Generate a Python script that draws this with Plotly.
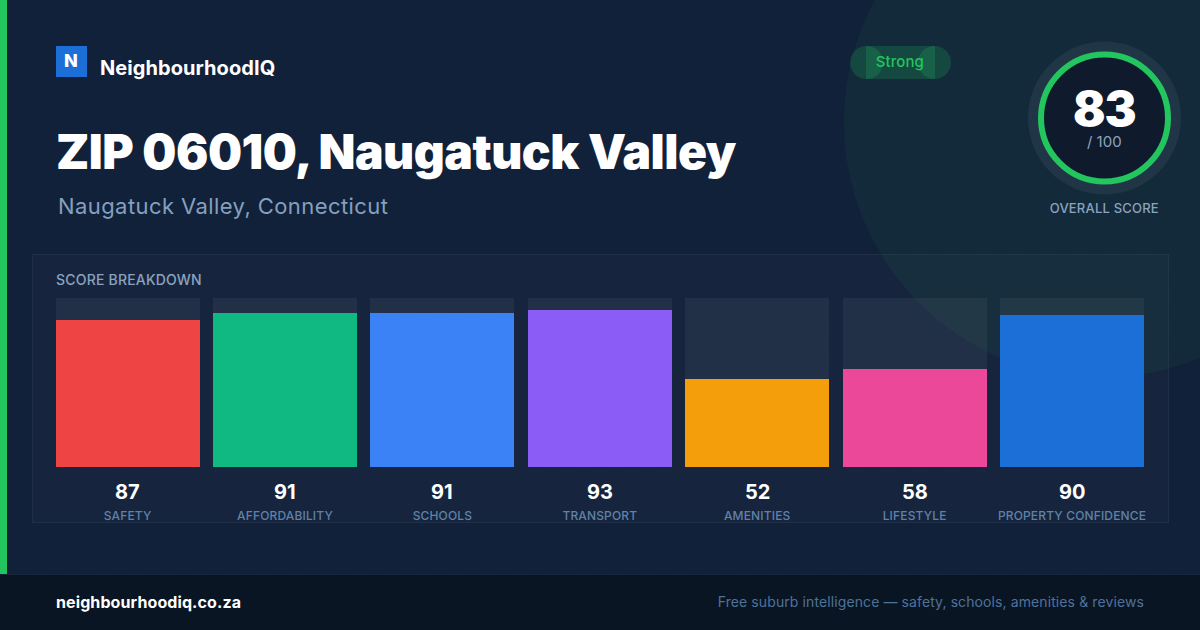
import base64
import json
import plotly.graph_objects as go

categories = ["SAFETY", "AFFORDABILITY", "SCHOOLS", "TRANSPORT", "AMENITIES", "LIFESTYLE", "PROPERTY CONFIDENCE"]
scores = [87, 91, 91, 93, 52, 58, 90]
bar_colors = ["#ef4444", "#10b981", "#3b82f6", "#8b5cf6", "#f59e0b", "#ec4899", "#1d6fd8"]
track_values = [100] * 7
overall_score = 83

W, H = 1200, 630
STEP, BAR_W = 157.4, 144
FIRST_BAR_LEFT = 55.6
X0, X1 = 55, 1145


def fx(px):
    return px / W


def fy(px):
    return 1 - px / H


# faint dot grid behind everything, drawn as a picture with no text
dots = "".join(
    f'<circle cx="{x}" cy="{y}" r="1" fill="#ffffff" fill-opacity="0.03"/>'
    for x in range(24, W, 32) for y in range(24, 574, 32)
)
svg = (
    f'<svg xmlns="http://www.w3.org/2000/svg" width="{W}" height="{H}">'
    f'<rect width="{W}" height="{H}" fill="#12213a"/>{dots}</svg>'
)
bg = "data:image/svg+xml;base64," + base64.b64encode(svg.encode()).decode()

fig = go.Figure()
fig.add_bar(x=categories, y=track_values, width=BAR_W / STEP, marker=dict(color="rgba(255,255,255,0.05)", line_width=0),
            hoverinfo="skip", showlegend=False)
fig.add_bar(x=categories, y=scores, width=BAR_W / STEP, marker=dict(color=bar_colors, line_width=0),
            showlegend=False)

shapes = []


def rect(x0, y0, x1, y1, fill, line=None):
    shapes.append(dict(type="rect", xref="paper", yref="paper", x0=fx(x0), x1=fx(x1), y0=fy(y1), y1=fy(y0),
                       fillcolor=fill, line=dict(color=line or "rgba(0,0,0,0)", width=1 if line else 0), layer="below"))


def circle(cx, cy, r, fill, line=None, lw=0):
    shapes.append(dict(type="circle", xref="paper", yref="paper", x0=fx(cx - r), x1=fx(cx + r),
                       y0=fy(cy + r), y1=fy(cy - r), fillcolor=fill,
                       line=dict(color=line or "rgba(0,0,0,0)", width=lw), layer="below"))


circle(1100, 122, 256, "rgba(34,197,94,0.055)")
rect(32.5, 254.5, 1168.5, 522.5, "rgba(255,255,255,0.02)", "rgba(255,255,255,0.06)")
rect(0, 0, 7, 574, "#22c55e")
rect(0, 574, W, H, "#0a1524")
rect(0, 574, W, 575, "#17243a")
rect(56, 46, 87, 77, "#1d6fd8")
# status pill
rect(866, 46, 935, 79, "rgba(34,197,94,0.2)")
circle(866.5, 62.5, 16.5, "rgba(34,197,94,0.2)")
circle(934.5, 62.5, 16.5, "rgba(34,197,94,0.2)")
# gauge
circle(1104.5, 118, 76.5, "rgba(255,255,255,0.06)")
circle(1104.5, 118, 63.5, "#0f1b2d", "#22c55e", 6)


def text(px, py, s, size, color, weight=400, anchor="left", height=None):
    fig.add_annotation(xref="paper", yref="paper", x=fx(px), y=fy(py), text=s, showarrow=False, xanchor=anchor,
                       yanchor="middle", borderwidth=0, borderpad=0, height=height,
                       font=dict(family="Inter", size=size, color=color, weight=weight))


text(71, 60.5, "N", 18, "#ffffff", 800, "center")
text(100, 68, "NeighbourhoodIQ", 20, "#ffffff", 700)
text(56, 151, "ZIP 06010, Naugatuck Valley", 48, "#ffffff", 900)
text(58, 206, "Naugatuck Valley, Connecticut", 22, "#84a0be", 400)
text(900, 62, "Strong", 15, "#22c55e", 500, "center")
text(1104.5, 108, str(overall_score), 48, "#ffffff", 900, "center", height=38)
text(1104.5, 141, "/ 100", 15, "#8ba3bf", 400, "center")
text(1104.5, 208, "OVERALL SCORE", 13, "#8ba3bf", 500, "center")
text(56, 279.5, "SCORE BREAKDOWN", 14, "#8ba3bf", 500)
text(56, 602, "neighbourhoodiq.co.za", 16, "#ffffff", 700)
text(1144, 601, "Free suburb intelligence — safety, schools, amenities &amp; reviews", 14, "#4f7299", 400, "right")

for c, v in zip(categories, scores):
    fig.add_annotation(x=c, y=0, yref="y", xref="x", text=str(v), showarrow=False, yanchor="middle", yshift=-25,
                       borderwidth=0, borderpad=0,
                       font=dict(family="Inter", size=20, color="#ffffff", weight=700))

first_center = FIRST_BAR_LEFT + BAR_W / 2
fig.update_layout(
    width=W, height=H, margin=dict(l=0, r=0, t=0, b=0), barmode="overlay", bargap=0,
    paper_bgcolor="#12213a", plot_bgcolor="rgba(0,0,0,0)", shapes=shapes,
    images=[dict(source=bg, xref="paper", yref="paper", x=0, y=1, sizex=1, sizey=1, sizing="stretch",
                 xanchor="left", yanchor="top", layer="below")],
    xaxis=dict(domain=[fx(X0), fx(X1)], range=[(X0 - first_center) / STEP, (X1 - first_center) / STEP],
               type="category", showgrid=False, zeroline=False,
               showline=False, ticks="outside", ticklen=38, tickcolor="rgba(0,0,0,0)",
               tickfont=dict(family="Inter", size=12, color="#5f82a8", weight=500)),
    yaxis=dict(domain=[fy(467), fy(298)], range=[0, 100], visible=False),
    font=dict(family="Inter"),
)

# tracking of the reference's texts: text -> [letter spacing px, anchor]
tracking = {
    "ZIP 06010, Naugatuck Valley": [-0.5, "left"],
    "NeighbourhoodIQ": [0.07, "left"],
    "83": [-1, "center"],
    "Naugatuck Valley, Connecticut": [0.42, "left"],
    "OVERALL SCORE": [0.2, "center"],
    "SCORE BREAKDOWN": [0.2, "left"],
    "neighbourhoodiq.co.za": [0.1, "left"],
    "Free suburb intelligence — safety, schools, amenities & reviews": [0.1, "right"],
    "Strong": [0.1, "center"],
}
post = """
document.body.style.margin='0';document.body.style.overflow='hidden';
var spec=%s;
function track(){
  document.querySelectorAll('.annotation-text').forEach(function(t){
    var s=spec[t.textContent]; if(!s||t.dataset.tracked) return;
    var a=t.getBBox(); t.style.letterSpacing=s[0]+'px'; var b=t.getBBox();
    var dx=s[1]=='left'?a.x-b.x:(s[1]=='right'?(a.x+a.width)-(b.x+b.width):0);
    t.setAttribute('x',parseFloat(t.getAttribute('x'))+dx); t.dataset.tracked='1';
  });
  document.querySelectorAll('.xtick text').forEach(function(t){t.style.letterSpacing='0.15px';});
}
track(); setTimeout(track,50); setTimeout(track,300);
""" % json.dumps(tracking, ensure_ascii=False)
fig.write_html("out.html", config=dict(displayModeBar=False), post_script=post)
